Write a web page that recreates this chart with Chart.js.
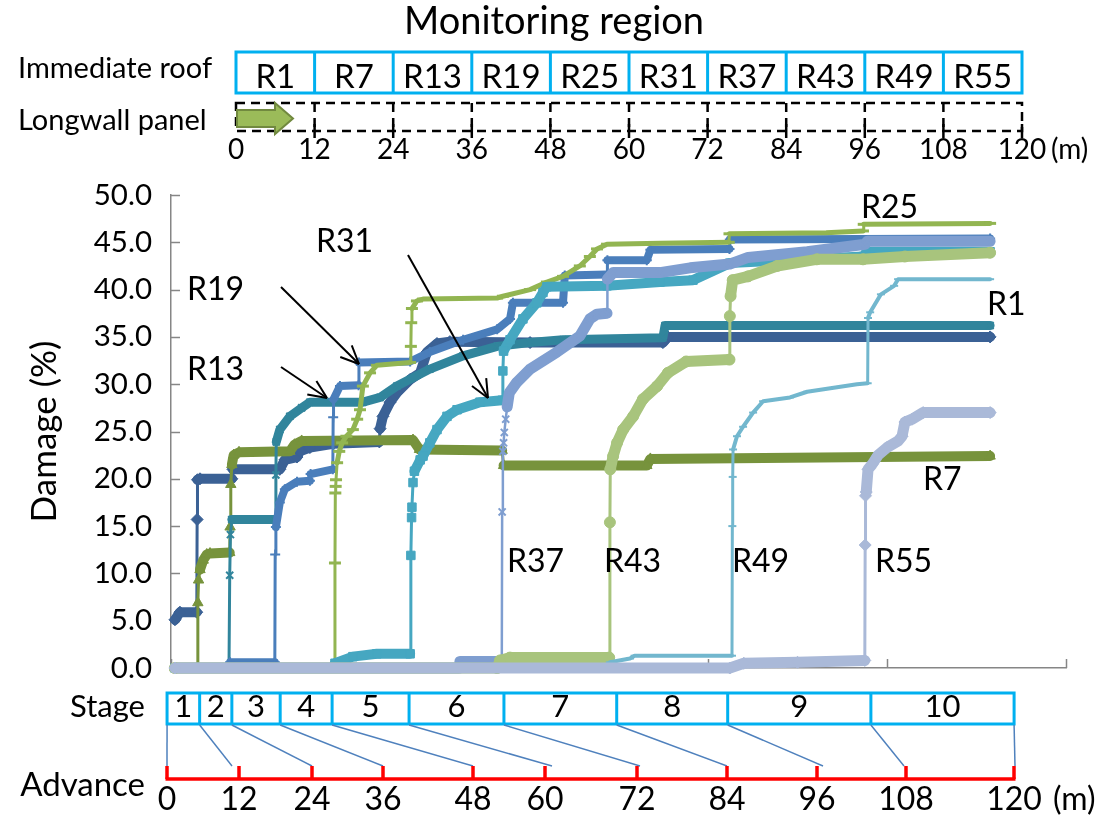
<!DOCTYPE html>
<html>
<head>
<meta charset="utf-8">
<title>Immediate roof damage by monitoring region</title>
<script src="https://cdn.jsdelivr.net/npm/chart.js"></script>
<style>
  html, body { margin: 0; padding: 0; background: #fff; }
  #wrap { position: relative; width: 1113px; height: 815px; overflow: hidden; }
  #chart { position: absolute; left: 0; top: 0; }
  #diagram { position: absolute; left: 0; top: 0; pointer-events: none; }
  #diagram text { font-family: Lato, 'Open Sans', sans-serif; fill: #000; }
</style>
</head>
<body>
<div id="wrap">
  <canvas id="chart" width="1113" height="815"></canvas>
  <svg id="diagram" width="1113" height="815" xmlns="http://www.w3.org/2000/svg"></svg>
</div>
<script>
// ---- data -------------------------------------------------------------
const regionLabels = ['R1', 'R7', 'R13', 'R19', 'R25', 'R31', 'R37', 'R43', 'R49', 'R55'];
const panelTicks   = [0, 12, 24, 36, 48, 60, 72, 84, 96, 108, 120];
const stageLabels  = ['1', '2', '3', '4', '5', '6', '7', '8', '9', '10'];
// stage limits on the step axis of the damage plot
const stageBounds  = [-1.1, 8, 17, 30.5, 45, 66.5, 93, 124.5, 155.5, 195.5, 235.5];
const advanceTicks = [0, 12, 24, 36, 48, 60, 72, 84, 96, 108, 120];

// damage (%) against calculation step, one list per monitoring region
const r1 = [[1.1,5.1],[2.5,5.9],[7.2,5.9],[7.3,15.7],[7.4,19.9],[8.1,20.0],[17.0,20.0],[17.3,21.0],[30.4,21.0],[31.8,22.0],[35.2,22.3],[36.0,22.9],[38.8,23.3],[45.3,23.7],[58.2,23.9],[58.4,25.3],[59.2,26.6],[61.2,28.1],[63.1,29.1],[66.8,30.5],[69.6,31.2],[71.5,33.4],[74.3,34.3],[77.9,34.5],[100.3,34.4],[137.4,34.4],[138.8,35.0],[228.8,35.0]];
const r7 = [[1.1,0],[7.4,0],[7.5,6.9],[7.7,9.3],[8.1,10.4],[9.0,11.4],[10.0,12.0],[10.9,12.1],[16.4,12.2],[16.5,14.9],[16.7,19.4],[17.0,21.5],[17.5,22.5],[19.0,22.8],[33.2,22.9],[34.5,23.6],[36.5,24.0],[67.6,24.1],[69.4,23.1],[92.5,23.0],[92.9,21.4],[132.9,21.4],[133.9,22.1],[228.8,22.4]];
const r13 = [[1.1,0],[16.2,0],[16.4,9.8],[16.6,14.1],[17.0,15.7],[29.1,15.7],[29.3,20.4],[29.4,23.9],[30.4,25.2],[33.2,26.6],[36.5,27.5],[38.8,28.1],[53.6,28.1],[58.4,28.6],[63.1,29.8],[72.3,31.6],[81.6,33.0],[91.1,34.0],[100.3,34.4],[109.5,34.7],[137.4,34.9],[138.0,36.2],[228.8,36.2]];
const r19 = [[1.1,0],[16.3,0],[16.5,0.6],[29.0,0.6],[29.1,12.0],[29.3,14.9],[30.4,17.5],[31.8,18.9],[35.2,19.7],[38.8,19.8],[39.0,20.5],[45.2,21.0],[45.3,26.5],[45.4,28.4],[47.2,29.8],[52.4,29.9],[52.5,32.3],[66.8,32.4],[72.3,33.4],[81.6,34.7],[91.1,35.8],[94.7,36.9],[95.5,38.6],[109.5,38.6],[110.0,41.5],[121.8,41.6],[121.9,43.1],[132.9,43.1],[133.9,44.2],[156.0,44.3],[156.1,45.3],[228.8,45.4]];
const r25 = [[1.1,0],[45.6,0],[45.8,11.1],[45.9,18.5],[46.0,19.2],[46.1,19.9],[46.4,21.7],[47.0,22.9],[47.8,23.8],[49.0,24.5],[50.8,25.2],[52.0,26.3],[52.8,27.3],[53.6,29.8],[55.6,31.2],[57.5,32.0],[66.8,32.3],[67.0,34.0],[67.1,36.5],[67.3,38.0],[68.7,38.8],[70.4,39.0],[91.1,39.1],[92.7,39.3],[100.3,40.0],[105.0,40.8],[109.5,41.4],[114.2,42.5],[117.0,43.5],[119.0,44.3],[121.8,44.8],[136.6,44.9],[155.8,45.0],[156.0,45.9],[183.0,46.0],[193.3,46.2],[193.5,46.9],[228.8,47.0]];
const r31 = [[1.1,0],[45.3,0],[45.8,0.5],[50.8,1.2],[57.5,1.5],[66.8,1.5],[67.0,11.9],[67.2,15.9],[67.3,17.0],[67.6,19.6],[68.0,20.8],[69.6,22.0],[70.4,22.4],[72.3,23.8],[74.3,25.2],[77.1,26.6],[79.9,27.3],[86.3,28.1],[92.5,28.3],[92.7,31.4],[92.9,33.5],[94.7,34.7],[98.3,36.9],[102.2,38.6],[103.9,39.7],[105.0,40.3],[121.8,40.4],[136.6,40.8],[145.8,41.0],[156.1,42.8],[193.3,43.5],[194.3,44.0],[228.8,44.0]];
const r37 = [[1.1,0],[80.5,0],[80.7,0.7],[92.4,0.7],[92.5,16.5],[92.7,22.9],[92.9,23.8],[93.1,24.9],[93.5,26.3],[93.9,27.6],[94.5,29.1],[96.6,30.2],[100.3,31.6],[107.8,33.4],[114.2,35.1],[117.0,36.9],[119.0,37.4],[121.8,37.5],[121.9,41.1],[123.5,41.8],[136.6,41.8],[145.0,42.3],[156.1,42.7],[161.2,43.4],[177.7,44.0],[193.9,44.8],[194.5,45.1],[228.8,45.1]];
const r43 = [[1.1,0],[91.1,0],[91.9,0.8],[94.7,1.1],[122.4,1.1],[122.6,15.4],[122.7,21.0],[123.5,22.4],[124.6,23.8],[126.3,25.2],[129.1,26.6],[131.8,28.4],[135.8,29.8],[138.8,31.2],[143.9,32.4],[156.0,32.6],[156.1,37.2],[156.3,39.3],[156.9,41.0],[161.2,41.4],[169.3,42.5],[180.4,43.2],[193.3,43.2],[205.0,43.5],[228.8,43.9]];
const r49 = [[1.1,0],[122.4,0],[122.6,0.6],[128.2,1.0],[129.5,1.3],[156.7,1.3],[156.8,15.0],[156.9,20.2],[157.0,23.1],[158.1,24.5],[159.8,25.5],[162.6,27.0],[165.4,28.2],[172.9,28.6],[177.7,29.2],[191.6,30.0],[194.6,30.1],[194.7,37.0],[195.3,37.6],[198.3,39.5],[202.0,40.4],[203.1,41.1],[228.8,41.1]];
const r55 = [[1.1,0],[156.1,0],[160.0,0.5],[175.0,0.6],[193.8,0.8],[193.9,13.0],[194.0,18.2],[194.2,18.6],[194.7,21.0],[195.8,21.5],[197.5,22.5],[200.0,23.3],[203.1,24.0],[204.2,24.5],[205.0,26.0],[207.0,26.3],[210.1,27.0],[228.8,27.0]];

const seriesData = [r1, r7, r13, r19, r25, r31, r37, r43, r49, r55];

// ---- styles -------------------------------------------------------------
const FONT = "Lato, 'Open Sans', sans-serif";
const AXIS_GREY = '#868686';
const BOX_BLUE = '#00B0F0';
const seriesStyles = [
  { color: '#3B6195', marker: 'rectRot',  r: 6,   pbw: 1, band: 10, thin: 3 },
  { color: '#77933C', marker: 'triangle', r: 6,   pbw: 1, band: 10, thin: 3 },
  { color: '#31859C', marker: 'crossRot', r: 5,   pbw: 2, band: 9,  thin: 3 },
  { color: '#4A7EBB', marker: 'cross',    r: 5,   pbw: 2, band: 8,  thin: 3 },
  { color: '#92B551', marker: 'line',     r: 6,   pbw: 3, band: 5,  thin: 3 },
  { color: '#46A7C1', marker: 'rect',     r: 6,   pbw: 1, band: 10, thin: 3 },
  { color: '#7F9ED0', marker: 'crossRot', r: 5,   pbw: 2, band: 11, thin: 2.5 },
  { color: '#A8C47D', marker: 'circle',   r: 5.5, pbw: 1, band: 11, thin: 3 },
  { color: '#72B7CE', marker: 'line',     r: 4,   pbw: 2, band: 4,  thin: 3 },
  { color: '#AAB9D8', marker: 'rectRot',  r: 6,   pbw: 1, band: 11, thin: 3 }
];

// ---- short inward tick marks on both axes ---------------------------------
const insideTicks = {
  id: 'insideTicks',
  beforeDatasetsDraw(chart) {
    const { ctx, chartArea: a, scales: { x, y } } = chart;
    ctx.save();
    ctx.strokeStyle = AXIS_GREY;
    ctx.lineWidth = 1.5;
    ctx.beginPath();
    y.ticks.forEach(t => {
      const py = Math.round(y.getPixelForValue(t.value)) + 0.5;
      ctx.moveTo(a.left, py); ctx.lineTo(a.left + 9, py);
    });
    x.ticks.forEach(t => {
      const px = Math.round(x.getPixelForValue(t.value)) + 0.5;
      ctx.moveTo(px, a.bottom); ctx.lineTo(px, a.bottom - 9);
    });
    ctx.stroke();
    ctx.restore();
  }
};

function buildChart() {
  const datasets = seriesData.map((pts, i) => {
    const st = seriesStyles[i];
    return {
      label: regionLabels[i],
      data: pts.map(([x, y]) => ({ x, y })),
      showLine: true,
      clip: 10,
      borderColor: st.color,
      backgroundColor: st.color,
      borderWidth: st.band,
      borderCapStyle: 'round',
      borderJoinStyle: 'round',
      pointStyle: st.marker,
      pointRadius: st.r,
      pointBorderWidth: st.pbw,
      pointBackgroundColor: st.color,
      pointBorderColor: st.color,
      // vertical jumps are drawn thin, the slowly growing parts as broad bands
      segment: {
        borderWidth: c => Math.abs(c.p1.x - c.p0.x) < 1.6 ? st.thin : st.band
      },
      order: seriesData.length - i
    };
  });

  const chart = new Chart(document.getElementById('chart'), {
    type: 'scatter',
    data: { datasets },
    options: {
      responsive: false,
      animation: false,
      devicePixelRatio: 1,
      layout: { padding: { left: 0, top: 195, right: 47, bottom: 147 } },
      plugins: { legend: { display: false }, tooltip: { enabled: false } },
      scales: {
        x: {
          type: 'linear', min: 0, max: 250,
          ticks: { display: false, stepSize: 50 },
          grid: { display: false, drawTicks: false },
          border: { display: true, color: AXIS_GREY, width: 1.5 },
          afterFit: s => { s.height = 0; }
        },
        y: {
          min: 0, max: 50,
          ticks: {
            stepSize: 5,
            padding: 19,
            color: '#000',
            font: { family: FONT, size: 29.5 },
            callback: v => Number(v).toFixed(1)
          },
          grid: { display: false, drawTicks: false },
          border: { display: true, color: AXIS_GREY, width: 1.5 },
          title: {
            display: true, text: 'Damage (%)', color: '#000',
            font: { family: FONT, size: 35 },
            padding: { top: 24, bottom: 0 }
          },
          afterFit: s => { s.width = 171; }
        }
      }
    },
    plugins: [insideTicks]
  });
  buildDiagrams(chart);
}

// ---- SVG parts: region strip, stage strip, advance scale, annotations ----
const NS = 'http://www.w3.org/2000/svg';
const svg = document.getElementById('diagram');
function el(tag, attrs, text) {
  const e = document.createElementNS(NS, tag);
  for (const k in attrs) e.setAttribute(k, attrs[k]);
  if (text != null) e.textContent = text;
  svg.appendChild(e);
  return e;
}
function label(x, y, str, size, anchor) {
  return el('text', { x, y, 'font-size': size, 'text-anchor': anchor || 'middle' }, str);
}
function line(x1, y1, x2, y2, stroke, w, extra) {
  return el('line', Object.assign({ x1, y1, x2, y2, stroke, 'stroke-width': w }, extra || {}));
}
function arrow(x1, y1, x2, y2) {
  line(x1, y1, x2, y2, '#000', 2);
  const ang = Math.atan2(y2 - y1, x2 - x1), len = 20, spread = 0.42;
  [ang + Math.PI - spread, ang + Math.PI + spread].forEach(a =>
    line(x2, y2, x2 + len * Math.cos(a), y2 + len * Math.sin(a), '#000', 2));
}

function buildDiagrams(chart) {
  // top: monitoring regions over the longwall panel
  const X0 = 236, X1 = 1022;
  const cell = (X1 - X0) / regionLabels.length;
  label(554, 34, 'Monitoring region', 38);
  label(18, 78, 'Immediate roof', 29, 'start');
  label(18, 130, 'Longwall panel', 29, 'start');

  el('rect', { x: X0, y: 52, width: X1 - X0, height: 41, fill: 'none', stroke: BOX_BLUE, 'stroke-width': 3 });
  regionLabels.forEach((r, i) => {
    if (i > 0) line(X0 + i * cell, 52, X0 + i * cell, 93, BOX_BLUE, 3);
    label(X0 + (i + 0.5) * cell, 88, r, 33);
  });

  const dash = { 'stroke-dasharray': '9,6' };
  el('rect', Object.assign({ x: X0, y: 103, width: X1 - X0, height: 28, fill: 'none', stroke: '#000', 'stroke-width': 2.5 }, dash));
  const pStep = (X1 - X0) / (panelTicks.length - 1);
  panelTicks.forEach((t, i) => {
    const px = X0 + i * pStep;
    if (i > 0 && i < panelTicks.length - 1) line(px, 103, px, 131, '#000', 2.5, dash);
    if (i > 0) line(px, 124, px, 138, '#000', 2.5);
    label(px, 159, String(t), 28);
  });
  label(1051, 159, '(m)', 28, 'start');
  el('polygon', {
    points: '237,110 275,110 275,103 293,118.5 275,134 275,127 237,127',
    fill: '#9BBB59', stroke: '#71893F', 'stroke-width': 2
  });

  // bottom: stages of the calculation and face advance
  const xs = chart.scales.x;
  const edge = stageBounds.map(v => xs.getPixelForValue(v));
  const S0 = 693, S1 = 724;
  el('rect', { x: edge[0], y: S0, width: edge[edge.length - 1] - edge[0], height: S1 - S0, fill: 'none', stroke: BOX_BLUE, 'stroke-width': 3 });
  stageLabels.forEach((s, i) => {
    if (i > 0) line(edge[i], S0, edge[i], S1, BOX_BLUE, 3);
    label((edge[i] + edge[i + 1]) / 2, 717, s, 31);
  });
  label(145, 717, 'Stage', 31, 'end');
  label(145, 796, 'Advance', 33, 'end');

  const advanceX = [167, 239, 312, 383, 473, 545, 637, 727, 817, 906, 1014];
  const linkEndX = [167, 232, 312, 383, 473, 552, 640, 727, 823, 904, 1015];
  edge.forEach((px, i) => line(px, S1 + 1, linkEndX[i], 766, '#4F81BD', 1.5));

  line(advanceX[0] - 1.5, 779, advanceX[advanceX.length - 1] + 1.5, 779, '#FF0000', 3.5);
  advanceTicks.forEach((t, i) => {
    line(advanceX[i], 766, advanceX[i], 779, '#FF0000', 3.5);
    label(advanceX[i], 810, String(t), 32);
  });
  label(1053, 810, '(m)', 32, 'start');

  // region names beside their curves
  const SZ = 32;
  label(861, 218, 'R25', SZ, 'start');
  label(987, 315, 'R1', SZ, 'start');
  label(923, 490, 'R7', SZ, 'start');
  label(507, 572, 'R37', SZ, 'start');
  label(604, 572, 'R43', SZ, 'start');
  label(732, 572, 'R49', SZ, 'start');
  label(875, 572, 'R55', SZ, 'start');
  label(316, 252, 'R31', SZ, 'start');
  label(187, 300, 'R19', SZ, 'start');
  label(187, 380, 'R13', SZ, 'start');
  arrow(281, 287, 359, 364);
  arrow(281, 367, 327, 398);
  arrow(408, 255, 488, 398);
}

document.fonts.load('28px Lato').then(buildChart, buildChart);
</script>
</body>
</html>
